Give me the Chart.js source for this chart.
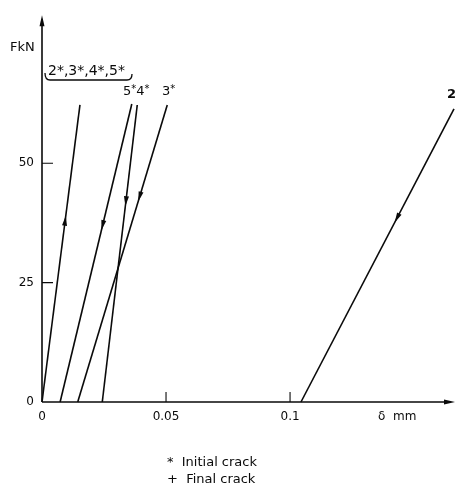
<!DOCTYPE html>
<html>
<head>
<meta charset="utf-8">
<script src="https://cdn.jsdelivr.net/npm/chart.js@4"></script>
<style>
  html, body { margin: 0; padding: 0; background: #fff; }
  #wrap { width: 455px; height: 489px; position: relative; }
</style>
</head>
<body>
<div id="wrap"><canvas id="loadChart"></canvas></div>
<script>
// load-displacement lines
const lineNames = ['2*,3*,4*,5*', '5*', '4*', '3*', '2'];
const deltaStart = [0, 0.0073, 0.0243, 0.0144, 0.1044];   // mm at F = 0
const deltaEnd = [0.0153, 0.0362, 0.0384, 0.0505, 0.1661]; // mm at top of line
const loadEnd = [62.2, 62.4, 62.2, 62.2, 61.4];           // kN
const arrowLoad = [39, 36, 41, 42, 37.6];                 // where the arrow sits
const arrowDir = [1, -1, -1, -1, -1];                     // 1 = loading, -1 = unloading
const xTicks = [0, 0.05, 0.1];
const yTicks = [0, 25, 50];

const ink = '#0a0a0a';
const font = '"DejaVu Sans", sans-serif';

const datasets = lineNames.map((name, i) => ({
  label: name,
  data: [{ x: deltaStart[i], y: 0 }, { x: deltaEnd[i], y: loadEnd[i] }],
  showLine: true,
  borderColor: ink,
  borderWidth: 1.6,
  pointRadius: 0,
  clip: false
}));

function arrowHead(ctx, x, y, ang, len, w) {
  ctx.save();
  ctx.translate(x, y);
  ctx.rotate(ang);
  ctx.beginPath();
  ctx.moveTo(0, 0);
  ctx.lineTo(-len, -w / 2);
  ctx.lineTo(-len, w / 2);
  ctx.closePath();
  ctx.fill();
  ctx.restore();
}

// label with small raised stars, e.g. "5*4*"
function starText(ctx, str, x, y, size) {
  let cx = x;
  for (const ch of str) {
    if (ch === '*') {
      ctx.font = Math.round(size * 0.75) + 'px ' + font;
      ctx.fillText(ch, cx, y - 3);
    } else {
      ctx.font = size + 'px ' + font;
      ctx.fillText(ch, cx, y);
    }
    cx += ctx.measureText(ch).width;
  }
}

// axes, ticks, arrows and annotations
const paperPlugin = {
  id: 'paper',
  afterDatasetsDraw(chart) {
    const { ctx, scales: { x, y } } = chart;
    const x0 = x.getPixelForValue(0), y0 = y.getPixelForValue(0);
    ctx.save();
    ctx.strokeStyle = ink;
    ctx.fillStyle = ink;
    ctx.lineWidth = 1.6;

    // axis lines with arrows
    ctx.beginPath();
    ctx.moveTo(x0, y0);
    ctx.lineTo(x0, chart.chartArea.top + 4);
    ctx.moveTo(x0, y0);
    ctx.lineTo(chart.chartArea.right - 4, y0);
    ctx.stroke();
    arrowHead(ctx, x0, chart.chartArea.top, -Math.PI / 2, 11, 5);
    arrowHead(ctx, chart.chartArea.right, y0, 0, 11, 5);

    // tick marks (inward)
    ctx.lineWidth = 1.1;
    ctx.beginPath();
    yTicks.slice(1).forEach(v => {
      const py = y.getPixelForValue(v);
      ctx.moveTo(x0, py);
      ctx.lineTo(x0 + 11, py);
    });
    xTicks.slice(1).forEach(v => {
      const px = x.getPixelForValue(v);
      ctx.moveTo(px, y0);
      ctx.lineTo(px, y0 - 10);
    });
    ctx.stroke();

    // direction arrows on each line
    lineNames.forEach((n, i) => {
      const ax = x.getPixelForValue(deltaStart[i]), ay = y.getPixelForValue(0);
      const bx = x.getPixelForValue(deltaEnd[i]), by = y.getPixelForValue(loadEnd[i]);
      const t = arrowLoad[i] / loadEnd[i];
      const px = ax + (bx - ax) * t, py = ay + (by - ay) * t;
      let ang = Math.atan2(by - ay, bx - ax);
      if (arrowDir[i] < 0) ang += Math.PI;
      arrowHead(ctx, px, py, ang, 10, 5);
    });

    // brace over the first line label
    ctx.lineWidth = 1.3;
    ctx.beginPath();
    ctx.moveTo(45, 73);
    ctx.quadraticCurveTo(45, 80, 50, 80);
    ctx.lineTo(127, 80);
    ctx.quadraticCurveTo(132, 80, 132, 74);
    ctx.stroke();

    // texts
    ctx.textBaseline = 'middle';
    ctx.textAlign = 'left';
    ctx.font = '13px ' + font;
    ctx.fillText('FkN', 10, 48);
    ctx.font = '14px ' + font;
    ctx.fillText(lineNames[0], 48, 71);
    starText(ctx, lineNames[1] + lineNames[2], 123, 92, 13);
    starText(ctx, lineNames[3], 162, 92, 13);
    ctx.font = 'bold 13px ' + font;
    ctx.fillText(lineNames[4], 447, 95);
    ctx.font = '12px ' + font;
    ctx.fillText('δ  mm', 378, 417);
    ctx.font = '13px ' + font;
    ctx.fillText('*  Initial crack', 167, 463);
    ctx.fillText('+  Final crack', 167, 480);
    ctx.restore();
  }
};

new Chart(document.getElementById('loadChart'), {
  type: 'scatter',
  data: { datasets },
  plugins: [paperPlugin],
  options: {
    responsive: true,
    maintainAspectRatio: false,
    animation: false,
    layout: { padding: { top: 10, right: 0, left: 0, bottom: 0 } },
    plugins: { legend: { display: false }, tooltip: { enabled: false } },
    scales: {
      x: {
        type: 'linear',
        min: 0,
        max: 0.1665,
        afterBuildTicks: s => { s.ticks = xTicks.map(v => ({ value: v })); },
        afterFit: s => { s.height = 87; },
        grid: { display: false, drawTicks: false },
        border: { display: false },
        ticks: {
          padding: 8,
          color: ink,
          font: { family: font, size: 12 },
          callback: v => String(v)
        }
      },
      y: {
        min: 0,
        max: 81,
        afterBuildTicks: s => { s.ticks = yTicks.map(v => ({ value: v })); },
        afterFit: s => { s.width = 42; },
        grid: { display: false, drawTicks: false },
        border: { display: false },
        ticks: {
          padding: 8,
          color: ink,
          font: { family: font, size: 12 },
          callback: v => String(v)
        }
      }
    }
  }
});
</script>
</body>
</html>
